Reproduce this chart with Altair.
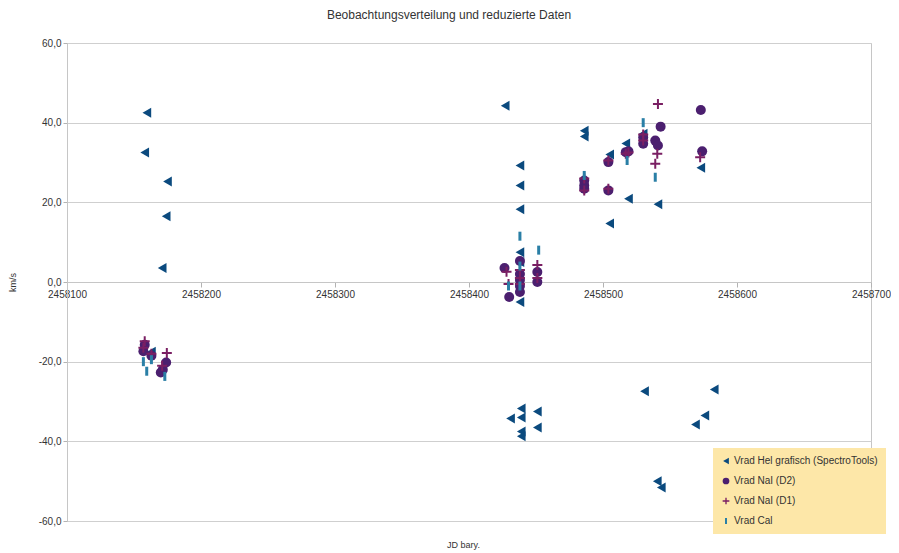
import altair as alt
import pandas as pd

# ---- data ----
series_names = ["Vrad Hel grafisch (SpectroTools)", "Vrad NaI (D2)", "Vrad NaI (D1)", "Vrad Cal"]

hel_jd = [2458159.6, 2458158, 2458175, 2458174, 2458171, 2458163,
          2458427, 2458438, 2458438, 2458438, 2458438, 2458438, 2458438,
          2458431, 2458439, 2458439, 2458439, 2458439, 2458451, 2458451,
          2458486, 2458486, 2458505, 2458517, 2458519, 2458505, 2458541, 2458530, 2458573,
          2458531, 2458583, 2458576, 2458569, 2458540.5, 2458543.5]
hel_v = [42.5, 32.5, 25.25, 16.5, 3.5, -17.5,
         44.25, 29.25, 24.25, 18.25, 7.5, 5.0, -5.0,
         -34.25, -31.75, -34.0, -37.5, -38.75, -32.5, -36.5,
         38.0, 36.5, 32.0, 34.8, 20.9, 14.7, 19.5, 37.2, 28.7,
         -27.4, -27.0, -33.5, -35.75, -50.0, -51.6]

d2_jd = [2458158, 2458157, 2458163, 2458174, 2458171.5, 2458170,
         2458426.5, 2458430, 2458438, 2458438, 2458438, 2458438, 2458438, 2458451, 2458451,
         2458486, 2458486, 2458486, 2458504, 2458504, 2458517, 2458519, 2458530, 2458530,
         2458539, 2458541, 2458543, 2458573, 2458574]
d2_v = [-15.75, -17.4, -18.5, -20.2, -22.0, -22.7,
        3.5, -3.75, 5.25, 2.0, 0.5, -1.0, -2.5, 2.5, 0.0,
        25.5, 24.25, 23.4, 30.1, 23.0, 32.6, 32.8, 36.3, 34.7,
        35.5, 34.25, 39.0, 43.2, 32.8]

d1_jd = [2458158, 2458157, 2458163, 2458171, 2458174.5,
         2458428, 2458429.5, 2458438, 2458438, 2458438, 2458451, 2458451,
         2458486, 2458486, 2458504, 2458504, 2458517, 2458519, 2458530, 2458530,
         2458539, 2458540.5, 2458541, 2458572.5]
d1_v = [-14.9, -16.5, -18.0, -21.0, -17.8,
        2.6, -0.5, 3.0, 1.0, -0.5, 4.25, 1.0,
        26.0, 23.0, 23.4, 30.5, 32.2, 32.5, 35.5, 37.0,
        29.7, 32.2, 44.7, 31.3]

cal_jd = [2458157, 2458159.5, 2458163, 2458173,
          2458438, 2458438, 2458438, 2458452, 2458429.5,
          2458486, 2458518, 2458530, 2458539]
cal_v = [-20.0, -22.4, -19.5, -23.7,
         11.5, 4.0, -1.0, 8.0, -1.0,
         26.75, 30.5, 40.0, 26.3]

x_ticks = [2458100, 2458200, 2458300, 2458400, 2458500, 2458600, 2458700]
y_ticks = [-60, -40, -20, 0, 20, 40, 60]

colors = ["#0b4a7e", "#4b1f6f", "#7a1f63", "#2a7fa6"]
shapes = [
    "triangle-left",
    "circle",
    "M-1,-0.2H-0.2V-1H0.2V-0.2H1V0.2H0.2V1H-0.2V0.2H-1Z",
    "M-0.3,-0.9H0.3V0.9H-0.3Z",
]

rows = []
for name, xs, ys in zip(series_names, [hel_jd, d2_jd, d1_jd, cal_jd], [hel_v, d2_v, d1_v, cal_v]):
    for a, b in zip(xs, ys):
        rows.append({"series": name, "jd": a, "v": b})
df = pd.DataFrame(rows)

FONT = "Liberation Sans"
W, H = 804, 478

legend = alt.Legend(title=None, orient="none", legendX=646, legendY=405,
                    fillColor="#fde7a8", padding=8, labelFontSize=10, labelFont=FONT,
                    labelColor="#333333", symbolSize=45, symbolStrokeWidth=0,
                    rowPadding=10, labelOffset=3, labelLimit=300)

chart = alt.Chart(df).mark_point(filled=True, opacity=1, size=100, strokeWidth=0).encode(
    x=alt.X("jd:Q",
            scale=alt.Scale(domain=[2458100, 2458700], nice=False, zero=False),
            axis=alt.Axis(values=x_ticks, format="d", grid=False, offset=-(H / 2),
                          title="JD bary.", titleX=396, titleY=258, titleFontSize=9,
                          titleFont=FONT, titleFontWeight="normal", titleColor="#333333",
                          labelFont=FONT, labelFontSize=10, labelColor="#333333",
                          tickSize=5, tickColor="#b3b3b3", domainColor="#c6c6c6",
                          labelPadding=2, labelOverlap=False, labelFlush=False)),
    y=alt.Y("v:Q",
            scale=alt.Scale(domain=[-60, 60], nice=False),
            axis=alt.Axis(values=y_ticks, title="km/s", titleAngle=-90, titleX=-50,
                          titleY=H / 2, titleFontSize=9, titleFont=FONT,
                          titleFontWeight="normal", titleColor="#333333",
                          labelExpr="replace(replace(format(datum.value, '.1f'), '.', ','), '\u2212', '-')",
                          labelFont=FONT, labelFontSize=10, labelColor="#333333",
                          tickSize=4, tickColor="#b3b3b3", domainColor="#c6c6c6",
                          gridColor="#cfcfcf", labelPadding=2)),
    color=alt.Color("series:N", scale=alt.Scale(domain=series_names, range=colors), legend=legend),
    shape=alt.Shape("series:N", scale=alt.Scale(domain=series_names, range=shapes), legend=legend),
).properties(
    width=W, height=H,
    title=alt.TitleParams("Beobachtungsverteilung und reduzierte Daten", fontSize=12,
                          font=FONT, fontWeight="normal", color="#333333",
                          anchor="middle", dx=-20, offset=16),
    autosize=alt.AutoSizeParams(type="none"),
    padding={"left": 59, "top": 35, "right": 20, "bottom": 31},
).configure_view(stroke="#c6c6c6", strokeWidth=1)

chart.save("out.html", embed_options={"renderer": "svg", "actions": False})
